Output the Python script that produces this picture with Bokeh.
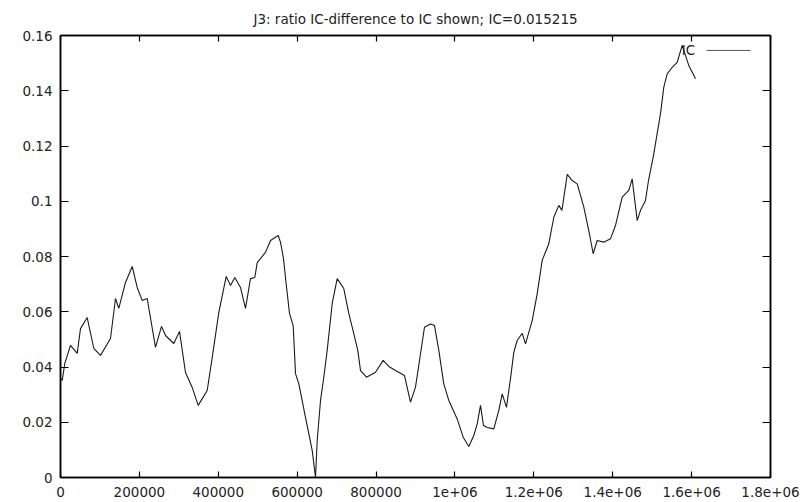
from bokeh.plotting import figure
from bokeh.models import (LinearAxis, FixedTicker, Range1d, Label, ColumnDataSource)
from bokeh.embed import file_html
from bokeh.resources import INLINE

# ---- data ----
title_text = "J3: ratio IC-difference to IC shown; IC=0.015215"
series_name = "IC"

x_vals = [
    0, 4310, 10900, 25350, 42340, 50700, 67690, 84420, 101400, 126800,
    139400, 147800, 164800, 181800, 194400, 207100, 219800, 240800, 256100, 266200,
    287200, 301700, 316900, 333900, 349100, 371900, 384600, 401300, 420100, 431000,
    441900, 456300, 469000, 481700, 492600, 498700, 519700, 532400, 551900, 557700,
    565300, 571700, 580600, 589900, 595800, 604100, 621100, 638100, 646500, 650800,
    659200, 667500, 676100, 688800, 701500, 718200, 730900, 743600, 753700, 760600,
    775800, 798600, 818100, 832300, 849300, 872100, 887300, 900000, 912700, 922800,
    938000, 948200, 959100, 971700, 984400, 1005700, 1020900, 1035100, 1047800, 1056400,
    1064800, 1072400, 1081800, 1098500, 1111200, 1119800, 1130700, 1140800, 1149200, 1157800,
    1170500, 1178900, 1195800, 1208500, 1221200, 1237900, 1250600, 1263300, 1271200, 1284700,
    1297300, 1310000, 1326700, 1339300, 1350500, 1360600, 1377400, 1394300, 1407000, 1424000,
    1440700, 1449300, 1462100, 1470400, 1483100, 1490700, 1503400, 1521100, 1529500, 1538100,
    1550800, 1563400, 1576100, 1584500, 1592900, 1609900,
]
y_vals = [
    0.0360, 0.0351, 0.0413, 0.0478, 0.0449, 0.0539, 0.0579, 0.0467, 0.0442, 0.0503,
    0.0648, 0.0612, 0.0706, 0.0764, 0.0688, 0.0641, 0.0648, 0.0471, 0.0547, 0.0514,
    0.0485, 0.0529, 0.0380, 0.0326, 0.0261, 0.0315, 0.0434, 0.0597, 0.0728, 0.0695,
    0.0724, 0.0688, 0.0612, 0.0720, 0.0724, 0.0778, 0.0815, 0.0858, 0.0876, 0.0852,
    0.0793, 0.0706, 0.0594, 0.0550, 0.0376, 0.0340, 0.0218, 0.0098, 0.0000, 0.0134,
    0.0279, 0.0363, 0.0460, 0.0630, 0.0720, 0.0684, 0.0594, 0.0521, 0.0460, 0.0387,
    0.0363, 0.0381, 0.0424, 0.0402, 0.0387, 0.0369, 0.0273, 0.0327, 0.0448, 0.0544,
    0.0556, 0.0550, 0.0460, 0.0339, 0.0279, 0.0212, 0.0146, 0.0112, 0.0152, 0.0194,
    0.0261, 0.0188, 0.0181, 0.0176, 0.0243, 0.0303, 0.0254, 0.0358, 0.0453, 0.0496,
    0.0522, 0.0484, 0.0568, 0.0665, 0.0786, 0.0846, 0.0942, 0.0985, 0.0967, 0.1097,
    0.1075, 0.1063, 0.0979, 0.0894, 0.0810, 0.0858, 0.0852, 0.0864, 0.0912, 0.1015,
    0.1039, 0.1081, 0.0930, 0.0967, 0.1003, 0.1075, 0.1166, 0.1317, 0.1413, 0.1461,
    0.1485, 0.1503, 0.1564, 0.1528, 0.1491, 0.1443,
]

x_ticks = [0, 200000, 400000, 600000, 800000, 1000000, 1200000, 1400000, 1600000, 1800000]
x_tick_labels = ["0", "200000", "400000", "600000", "800000", "1e+06",
                 "1.2e+06", "1.4e+06", "1.6e+06", "1.8e+06"]
y_ticks = [0, 0.02, 0.04, 0.06, 0.08, 0.1, 0.12, 0.14, 0.16]
y_tick_labels = ["0", "0.02", "0.04", "0.06", "0.08", "0.1", "0.12", "0.14", "0.16"]

# legend placement (data coordinates of the key)
legend_text_x = 1609000
legend_y = 0.1546
legend_line_x0 = 1638000
legend_line_x1 = 1749000

FONT = "DejaVu Sans"

p = figure(width=800, height=500, output_backend="svg", toolbar_location=None,
           x_range=Range1d(0, 1800000), y_range=Range1d(0, 0.16),
           min_border_left=60, min_border_right=30, min_border_top=35,
           min_border_bottom=23, x_axis_type=None, y_axis_type=None)
p.background_fill_color = "white"
p.border_fill_color = "white"
p.outline_line_color = "black"
p.outline_line_width = 1.5
p.xgrid.visible = False
p.ygrid.visible = False

p.title.text = title_text
p.title.text_font = FONT
p.title.text_font_size = "13.5px"
p.title.text_font_style = "normal"
p.title.align = "center"
p.title.text_color = "#222222"
p.title.standoff = 17

def style_axis(ax, ticks, labels, show_labels, tick_len):
    ax.ticker = FixedTicker(ticks=ticks)
    ax.minor_tick_line_color = None
    ax.major_tick_in = tick_len
    ax.major_tick_out = 0
    ax.major_tick_line_color = "black"
    ax.major_tick_line_width = 1.2
    ax.axis_line_color = "black"
    ax.axis_line_width = 1.5
    if show_labels:
        ax.major_label_overrides = {t: l for t, l in zip(ticks, labels)}
        ax.major_label_text_font = FONT
        ax.major_label_text_color = "#222222"
        ax.major_label_text_font_size = "13.5px"
    else:
        ax.major_label_text_color = None
        ax.major_label_text_font_size = "1px"
        ax.major_label_standoff = 0

xb = LinearAxis()
style_axis(xb, x_ticks, x_tick_labels, True, 6)
xb.major_label_standoff = 9
p.add_layout(xb, "below")
yl = LinearAxis()
style_axis(yl, y_ticks, y_tick_labels, True, 8)
yl.major_label_standoff = 8
p.add_layout(yl, "left")
xt = LinearAxis()
style_axis(xt, x_ticks, x_tick_labels, False, 6)
p.add_layout(xt, "above")
yr = LinearAxis()
style_axis(yr, y_ticks, y_tick_labels, False, 8)
p.add_layout(yr, "right")

src = ColumnDataSource(dict(x=x_vals, y=y_vals))
p.line("x", "y", source=src, line_color="#1a1a1a", line_width=1.1)

# key
p.add_layout(Label(x=legend_text_x, y=legend_y, text=series_name, text_font=FONT,
                   text_font_size="13.5px", text_align="right", text_baseline="middle",
                   text_color="#222222"))
p.segment(x0=[legend_line_x0], y0=[legend_y], x1=[legend_line_x1], y1=[legend_y],
          line_color="#555555", line_width=1)

open("out.html", "w").write(file_html(p, INLINE))
